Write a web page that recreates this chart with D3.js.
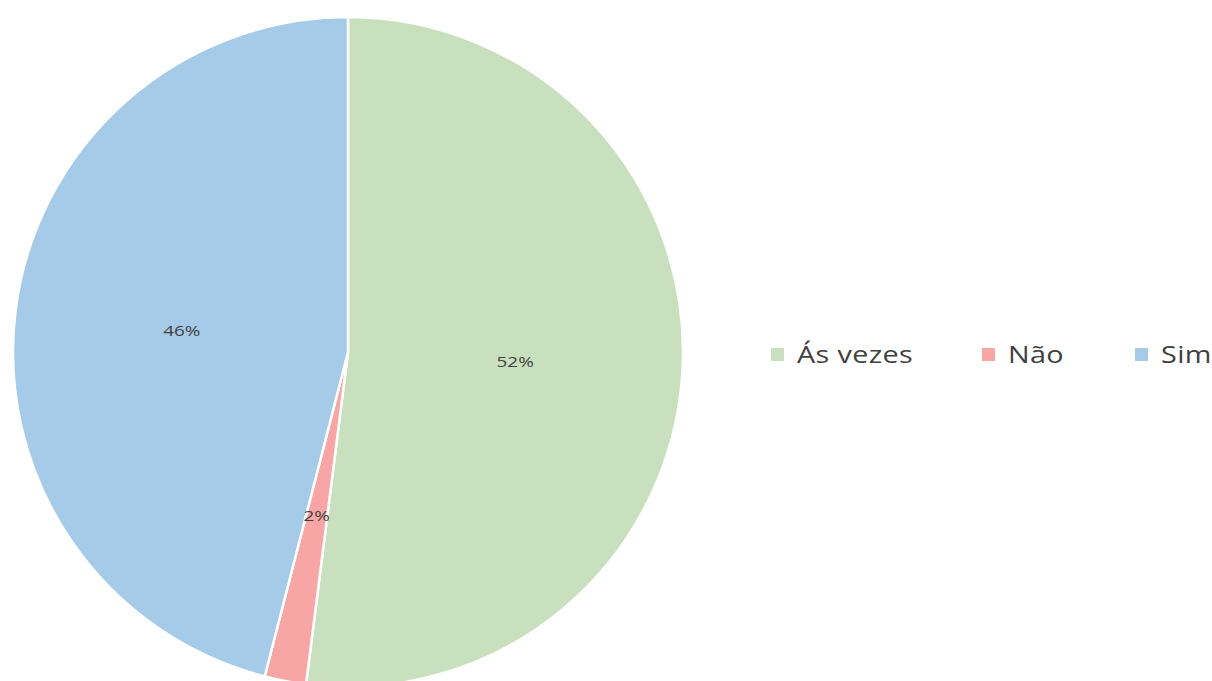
<!DOCTYPE html>
<html><head><meta charset="utf-8">
<script src="https://cdn.jsdelivr.net/npm/d3@7"></script>
<style>body{margin:0;background:#fff;overflow:hidden}</style>
</head><body>
<svg id="chart" width="1212" height="681"></svg>
<script>
const categories = ["Ás vezes", "Não", "Sim"];
const values = [52, 2, 46];
const colors = ["#C9E0BF", "#F7A5A5", "#A6CBE8"];

const svg = d3.select("#chart");
const cx = 348, cy = 352, R = 335;
const legendX = [771, 982, 1135];
const data = categories.map((c, i) => ({cat: c, value: values[i], color: colors[i]}));
const pie = d3.pie().value(d => d.value).sort(null);
const arcs = pie(data);
const arc = d3.arc().innerRadius(0).outerRadius(R);
const g = svg.append("g").attr("transform", `translate(${cx},${cy})`);
g.selectAll("path").data(arcs).join("path")
  .attr("d", arc).attr("fill", d => d.data.color)
  .attr("stroke", "#fff").attr("stroke-width", 2.5);
const total = d3.sum(values);
g.selectAll("text").data(arcs).join("text")
  .attr("transform", d => `translate(${arc.centroid(d)}) scale(1.35,1)`)
  .attr("text-anchor", "middle").attr("dy", "0.35em")
  .attr("font-family", "'Open Sans', 'DejaVu Sans', sans-serif")
  .attr("font-size", 14).attr("fill", "#404040")
  .text(d => Math.round(d.data.value / total * 100) + "%");

const lg = svg.append("g");
data.forEach((d, i) => {
  lg.append("rect").attr("x", legendX[i]).attr("y", 348).attr("width", 13).attr("height", 13).attr("fill", d.color);
  lg.append("text").attr("transform", `translate(${legendX[i] + 26},363) scale(1.25,1)`)
    .attr("font-family", "'Open Sans', 'DejaVu Sans', sans-serif")
    .attr("font-size", 23).attr("fill", "#404040")
    .style("letter-spacing", "0.3px").text(d.cat);
});
</script>
</body></html>
